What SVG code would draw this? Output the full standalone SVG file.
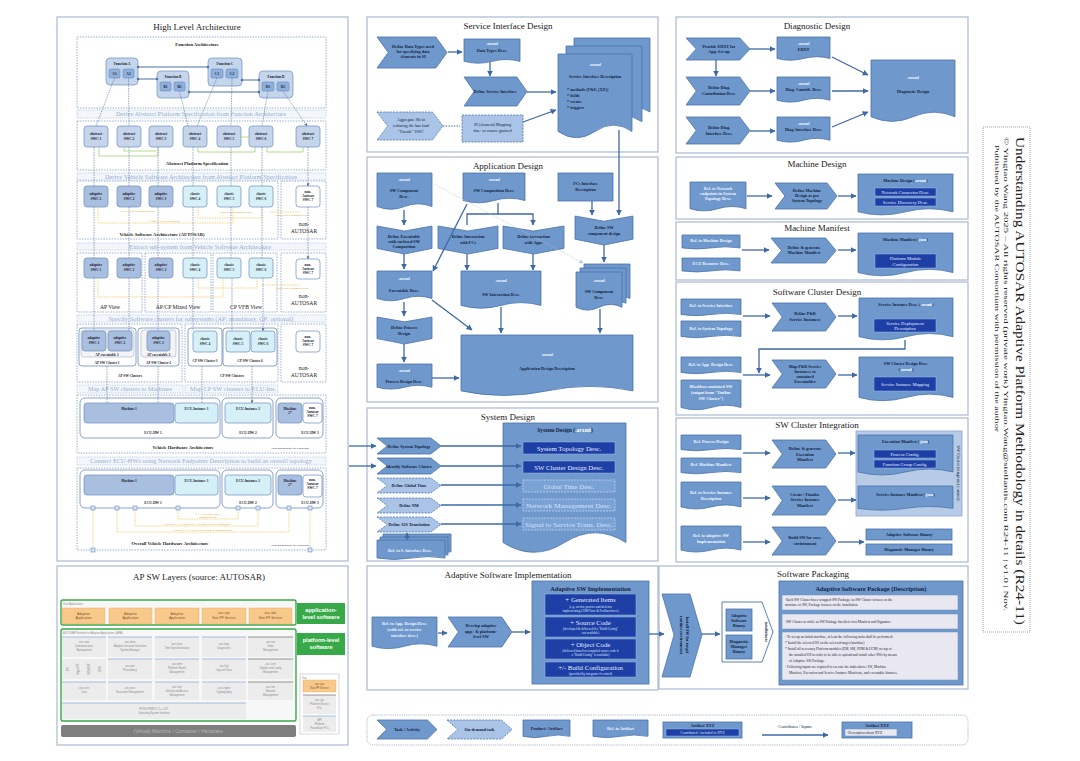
<svg xmlns="http://www.w3.org/2000/svg" width="1080" height="761" viewBox="0 0 1080 761">
<style>
.pn{fill:#fff;stroke:#a8b9d0;stroke-width:1.2}
.hd{font-family:"Liberation Serif",serif;font-size:9px;fill:#1a1a1a;text-anchor:middle}
.s{fill:#6f98cc;stroke:#4a73aa;stroke-width:0.8}
.sl{fill:#a9c4e6;stroke:#4a73aa;stroke-width:0.8;stroke-dasharray:2 1.2}
.dk{fill:#1d3fa6;stroke:#9fb6e0;stroke-width:0.5}
.dd{fill:#7aa2d4;stroke:#d6e3f5;stroke-width:0.6;stroke-dasharray:2 1}
.lt{fill:#e9e7ef;stroke:#6d8fc0;stroke-width:0.5}
.t{font-family:"Liberation Serif",serif;font-size:4.2px;font-weight:bold;fill:#13233f;text-anchor:middle}
.tw{font-family:"Liberation Serif",serif;font-size:4.2px;font-weight:bold;fill:#f2f6ff;text-anchor:middle}
.td{font-family:"Liberation Serif",serif;font-size:6.8px;fill:#e6eefc;text-anchor:middle}
.tdd{font-family:"Liberation Serif",serif;font-size:6.8px;fill:#d3e2f6;text-anchor:middle}
.ts{font-family:"Liberation Serif",serif;font-size:3.2px;fill:#dfe8fa;text-anchor:middle}
.tm{font-family:"Liberation Serif",serif;font-size:4.6px;fill:#e6eefc;text-anchor:middle}
.tp{font-family:"Liberation Serif",serif;font-size:3.5px;fill:#1a2740}
.a{stroke:#3e69a6;stroke-width:1.3;fill:none;marker-end:url(#ah)}
.ad{stroke:#3e69a6;stroke-width:1.1;fill:none;stroke-dasharray:1.5 1.2}
.dc{fill:none;stroke:#6f8fc0;stroke-width:0.7;stroke-dasharray:1.5 1.2}
.bn{fill:#f3f7fc;stroke:#9db3d6;stroke-width:0.6;stroke-dasharray:1.2 1}
.bt{font-family:"Liberation Serif",serif;font-size:5.4px;fill:#93acd3;text-anchor:middle}
.hl{font-family:"Liberation Serif",serif;font-size:4.6px;font-weight:bold;fill:#1a1a1a;text-anchor:middle}
.hl2{font-family:"Liberation Serif",serif;font-size:5.6px;fill:#1a1a1a;text-anchor:middle}
.hs{font-family:"Liberation Serif",serif;font-size:3.5px;font-weight:bold;fill:#1a1a2a;text-anchor:middle}
.fb{fill:#c4d5ec;stroke:#6f91c3;stroke-width:0.7}
.fs{fill:#8fb0dc;stroke:#5d81b8;stroke-width:0.5}
.ap{fill:#a9bfe0;stroke:#6a8cc0;stroke-width:0.7}
.cp{fill:#d6f0f8;stroke:#6a8cc0;stroke-width:0.7}
.na{fill:#fff;stroke:#6a8cc0;stroke-width:0.7}
.hw{fill:#fff;stroke:#6a8cc0;stroke-width:0.8}
.vd{stroke:#4a6fa5;stroke-width:0.6;fill:none;stroke-dasharray:1.5 1;marker-end:url(#ah2)}
.gl{stroke:#9fd06e;stroke-width:0.8;fill:none}
.yl{stroke:#f2c14b;stroke-width:0.7;fill:none;stroke-dasharray:1.5 1}
.yt{font-family:"Liberation Serif",serif;font-size:2.8px;fill:#e2a21c;text-anchor:middle}
.cl{stroke:#4a6fa5;stroke-width:1.1;fill:none}
.lg{fill:#ececec;stroke:none}
.lgt{font-family:"Liberation Sans",sans-serif;font-size:2.6px;fill:#8a8a8a;text-anchor:middle}
.gb{fill:#f7f7f7;stroke:#3aa84a;stroke-width:1.4}
.gt{fill:#38a948}
.gtt{font-family:"Liberation Sans",sans-serif;font-size:5.6px;font-weight:bold;fill:#fff;text-anchor:middle}
.or{fill:#f8c98b;stroke:#e7a85b;stroke-width:0.4}
.ot{font-family:"Liberation Sans",sans-serif;font-size:3.3px;fill:#7a5a32;text-anchor:middle}
</style>
<defs>
<path id="doc" d="M0,0H1V0.86Q0.75,0.72 0.5,0.86T0,0.86Z" vector-effect="non-scaling-stroke"/>
<path id="chev" d="M0,0H0.84L1,0.5L0.84,1H0L0.16,0.5Z" vector-effect="non-scaling-stroke"/>
<path id="chevd" d="M0,0L0.5,0.18L1,0V0.8L0.5,1L0,0.8Z" vector-effect="non-scaling-stroke"/>
<marker id="ah" viewBox="0 0 10 10" refX="9" refY="5" markerWidth="6" markerHeight="6" markerUnits="userSpaceOnUse" orient="auto"><path d="M0,0L10,5L0,10Z" fill="#3e69a6"/></marker>
<marker id="ah2" viewBox="0 0 10 10" refX="9" refY="5" markerWidth="3" markerHeight="3" markerUnits="userSpaceOnUse" orient="auto"><path d="M0,0L10,5L0,10Z" fill="#4a6fa5"/></marker>
<marker id="ahg" viewBox="0 0 10 10" refX="9" refY="5" markerWidth="4" markerHeight="4" markerUnits="userSpaceOnUse" orient="auto"><path d="M0,0L10,5L0,10Z" fill="#b8c2d0"/></marker>
</defs>
<rect width="1080" height="761" fill="#fff"/>

<!-- ================= HIGH LEVEL ARCHITECTURE ================= -->
<g id="hla">
<rect class="pn" x="57" y="17" width="291" height="544"/>
<text class="hd" x="197" y="30">High Level Architecture</text>
<rect class="dc" x="77" y="37" width="249" height="71"/>
<text class="hl" x="197" y="46">Function Architecture</text>
<g id="fnA"><rect class="fb" x="106" y="58" width="32" height="27" rx="4"/><text class="hs" x="122" y="64.5">Function A</text><rect class="fs" x="109" y="69" width="11" height="9" rx="1.5"/><text class="hs" x="114.5" y="75">A1</text><rect class="fs" x="123" y="69" width="11" height="9" rx="1.5"/><text class="hs" x="128.5" y="75">A2</text></g>
<g id="fnB"><rect class="fb" x="157" y="71" width="32" height="27" rx="4"/><text class="hs" x="173" y="77.5">Function B</text><rect class="fs" x="160" y="82" width="11" height="9" rx="1.5"/><text class="hs" x="165.5" y="88">B1</text><rect class="fs" x="174" y="82" width="11" height="9" rx="1.5"/><text class="hs" x="179.5" y="88">B2</text></g>
<g id="fnC"><rect class="fb" x="208" y="58" width="34" height="28" rx="4"/><text class="hs" x="225" y="64.5">Function C</text><rect class="fs" x="211" y="69" width="12" height="9" rx="1.5"/><text class="hs" x="217" y="75">C1</text><rect class="fs" x="226" y="69" width="12" height="9" rx="1.5"/><text class="hs" x="232" y="75">C2</text></g>
<g id="fnD"><rect class="fb" x="259" y="71" width="34" height="27" rx="4"/><text class="hs" x="276" y="77.5">Function D</text><rect class="fs" x="262" y="82" width="12" height="9" rx="1.5"/><text class="hs" x="268" y="88">D1</text><rect class="fs" x="277" y="82" width="12" height="9" rx="1.5"/><text class="hs" x="283" y="88">D2</text></g>

<rect class="bn" x="77" y="110" width="249" height="8"/>
<text class="bt" x="201" y="116" textLength="170" lengthAdjust="spacingAndGlyphs">Derive Abstract Platform Specification from Function Architecture</text>

<rect class="dc" x="77" y="121" width="249" height="49"/>
<g id="abs">
<rect class="fb" x="84" y="126" width="24" height="21" rx="3"/><text class="hs" x="96" y="135">abstract</text><text class="hs" x="96" y="140">SWC 1</text>
<rect class="fb" x="117" y="126" width="24" height="21" rx="3"/><text class="hs" x="129" y="135">abstract</text><text class="hs" x="129" y="140">SWC 2</text>
<rect class="fb" x="149" y="126" width="24" height="21" rx="3"/><text class="hs" x="161" y="135">abstract</text><text class="hs" x="161" y="140">SWC 3</text>
<rect class="fb" x="183" y="126" width="24" height="21" rx="3"/><text class="hs" x="195" y="135">abstract</text><text class="hs" x="195" y="140">SWC 4</text>
<rect class="fb" x="217" y="126" width="24" height="21" rx="3"/><text class="hs" x="229" y="135">abstract</text><text class="hs" x="229" y="140">SWC 5</text>
<rect class="fb" x="249" y="126" width="24" height="21" rx="3"/><text class="hs" x="261" y="135">abstract</text><text class="hs" x="261" y="140">SWC 6</text>
<rect class="fb" x="296" y="126" width="24" height="21" rx="3"/><text class="hs" x="308" y="135">abstract</text><text class="hs" x="308" y="140">SWC 7</text>
</g>
<text class="hl" x="197" y="165">Abstract Platform Specification</text>

<rect class="bn" x="77" y="173" width="249" height="7"/>
<text class="bt" x="201" y="178.5" textLength="192" lengthAdjust="spacingAndGlyphs">Derive Vehicle Software Architecture from Abstract Platform Specification</text>

<rect class="dc" x="77" y="181" width="201" height="58"/>
<rect class="dc" x="281" y="181" width="45" height="58"/>
<g id="vsa">
<rect class="ap" x="84" y="186" width="24" height="21" rx="3"/><text class="hs" x="96" y="195">adaptive</text><text class="hs" x="96" y="200">SWC 1</text>
<rect class="ap" x="117" y="186" width="24" height="21" rx="3"/><text class="hs" x="129" y="195">adaptive</text><text class="hs" x="129" y="200">SWC 2</text>
<rect class="ap" x="149" y="186" width="24" height="21" rx="3"/><text class="hs" x="161" y="195">adaptive</text><text class="hs" x="161" y="200">SWC 3</text>
<rect class="cp" x="183" y="186" width="24" height="21" rx="3"/><text class="hs" x="195" y="195">classic</text><text class="hs" x="195" y="200">SWC 4</text>
<rect class="cp" x="217" y="186" width="24" height="21" rx="3"/><text class="hs" x="229" y="195">classic</text><text class="hs" x="229" y="200">SWC 5</text>
<rect class="cp" x="249" y="186" width="24" height="21" rx="3"/><text class="hs" x="261" y="195">classic</text><text class="hs" x="261" y="200">SWC 6</text>
<rect class="na" x="296" y="186" width="24" height="21" rx="3"/><text class="hs" x="308" y="193">non-</text><text class="hs" x="308" y="197">Autosar</text><text class="hs" x="308" y="201">SWC 7</text>
</g>
<text class="hl" x="162" y="236">Vehicle Software Architecture (AUTOSAR)</text>
<text class="hl2" x="304" y="226">non-</text><text class="hl2" x="304" y="233">AUTOSAR</text>

<rect class="bn" x="77" y="243" width="249" height="7"/>
<text class="bt" x="200" y="248.5" textLength="142" lengthAdjust="spacingAndGlyphs">Extract sub-system from Vehicle Software Architecture</text>

<rect class="dc" x="77" y="253" width="65" height="59"/>
<rect class="dc" x="145" y="253" width="66" height="59"/>
<rect class="dc" x="213" y="253" width="64" height="59"/>
<rect class="dc" x="281" y="253" width="45" height="59"/>
<g id="views">
<rect class="ap" x="84" y="258" width="24" height="20" rx="3"/><text class="hs" x="96" y="266">adaptive</text><text class="hs" x="96" y="271">SWC 1</text>
<rect class="ap" x="117" y="258" width="24" height="20" rx="3"/><text class="hs" x="129" y="266">adaptive</text><text class="hs" x="129" y="271">SWC 2</text>
<rect class="ap" x="149" y="258" width="24" height="20" rx="3"/><text class="hs" x="161" y="266">adaptive</text><text class="hs" x="161" y="271">SWC 3</text>
<rect class="cp" x="183" y="258" width="24" height="20" rx="3"/><text class="hs" x="195" y="266">classic</text><text class="hs" x="195" y="271">SWC 4</text>
<rect class="cp" x="217" y="258" width="24" height="20" rx="3"/><text class="hs" x="229" y="266">classic</text><text class="hs" x="229" y="271">SWC 5</text>
<rect class="cp" x="249" y="258" width="24" height="20" rx="3"/><text class="hs" x="261" y="266">classic</text><text class="hs" x="261" y="271">SWC 6</text>
<rect class="na" x="296" y="259" width="24" height="20" rx="3"/><text class="hs" x="308" y="266">non-</text><text class="hs" x="308" y="270">Autosar</text><text class="hs" x="308" y="274">SWC 7</text>
</g>
<text class="hl2" x="110" y="309">AP View</text>
<text class="hl2" x="178" y="309">AP/CP Mixed View</text>
<text class="hl2" x="246" y="309">CP VFB View</text>
<text class="hl2" x="304" y="298">non-</text><text class="hl2" x="304" y="305">AUTOSAR</text>

<rect class="bn" x="77" y="315" width="249" height="7"/>
<text class="bt" x="201" y="320.5" textLength="185" lengthAdjust="spacingAndGlyphs">Specify Software clusters for subsystems (AP: mandatory, CP: optional)</text>

<rect class="dc" x="77" y="324" width="105" height="58"/>
<rect class="dc" x="185" y="324" width="93" height="58"/>
<rect class="dc" x="281" y="324" width="45" height="58"/>
<g id="clusters">
<rect class="hw" x="79" y="328" width="57" height="38" rx="3"/>
<rect fill="#f4f4f4" stroke="#8aa0c0" stroke-width="0.5" x="81" y="330" width="53" height="27" rx="3"/>
<rect class="ap" x="82" y="331" width="24" height="20" rx="3"/><text class="hs" x="94" y="339">adaptive</text><text class="hs" x="94" y="344">SWC 1</text>
<rect class="ap" x="108" y="331" width="24" height="20" rx="3"/><text class="hs" x="120" y="339">adaptive</text><text class="hs" x="120" y="344">SWC 2</text>
<text class="hs" x="107" y="356">AP executable 1</text><text class="hs" x="107" y="364">AP SW Cluster 1</text>
<rect class="hw" x="138" y="328" width="41" height="38" rx="3"/>
<rect fill="#f4f4f4" stroke="#8aa0c0" stroke-width="0.5" x="141" y="330" width="35" height="27" rx="3"/>
<rect class="ap" x="147" y="331" width="23" height="20" rx="3"/><text class="hs" x="158.5" y="339">adaptive</text><text class="hs" x="158.5" y="344">SWC 3</text>
<text class="hs" x="158.5" y="356">AP executable 2</text><text class="hs" x="158.5" y="364">AP SW Cluster 2</text>
<rect class="hw" x="188" y="328" width="34" height="38" rx="3"/>
<rect class="cp" x="193" y="331" width="24" height="21" rx="3"/><text class="hs" x="205" y="340">classic</text><text class="hs" x="205" y="345">SWC 4</text>
<text class="hs" x="205" y="362">CP SW Cluster 3</text>
<rect class="hw" x="223" y="328" width="54" height="38" rx="3"/>
<rect class="cp" x="226" y="331" width="24" height="21" rx="3"/><text class="hs" x="238" y="340">classic</text><text class="hs" x="238" y="345">SWC 5</text>
<rect class="cp" x="251" y="331" width="24" height="21" rx="3"/><text class="hs" x="263" y="340">classic</text><text class="hs" x="263" y="345">SWC 6</text>
<text class="hs" x="250" y="362">CP SW Cluster 4</text>
<rect class="na" x="296" y="331" width="24" height="21" rx="3"/><text class="hs" x="308" y="338">non-</text><text class="hs" x="308" y="342">Autosar</text><text class="hs" x="308" y="346">SWC 7</text>
</g>
<text class="hs" x="130" y="377">AP SW Clusters</text>
<text class="hs" x="232" y="377">CP SW Clusters</text>
<text class="hl2" x="304" y="370">non-</text><text class="hl2" x="304" y="377">AUTOSAR</text>

<rect class="bn" x="77" y="385" width="106" height="8"/>
<text class="bt" x="130" y="391" textLength="84" lengthAdjust="spacingAndGlyphs">Map AP SW clusters to Machines</text>
<rect class="bn" x="185" y="385" width="93" height="8"/>
<text class="bt" x="233" y="391" textLength="86" lengthAdjust="spacingAndGlyphs">Map CP SW clusters to ECU-Ins.</text>

<rect class="dc" x="77" y="395" width="249" height="58"/>
<g id="vha">
<rect class="hw" x="80" y="398" width="140" height="40" rx="5"/>
<rect class="ap" x="84" y="403" width="90" height="20" rx="3"/><text class="hs" x="129" y="410">Machine 1</text>
<rect class="cp" x="175" y="403" width="43" height="20" rx="3"/><text class="hs" x="196.5" y="410">ECU-Instance 1</text>
<text class="hs" x="153" y="434">ECU-HW 1</text>
<rect class="hw" x="222" y="398" width="51" height="40" rx="5"/>
<rect class="cp" x="225" y="403" width="46" height="20" rx="3"/><text class="hs" x="248" y="410">ECU-Instance 2</text>
<text class="hs" x="248" y="434">ECU-HW 2</text>
<rect class="hw" x="276" y="398" width="47" height="40" rx="5"/>
<rect class="ap" x="278" y="403" width="24" height="20" rx="3"/><text class="hs" x="290" y="410">Machine</text><text class="hs" x="290" y="414">2*</text>
<rect class="na" x="303" y="403" width="19" height="20" rx="3"/><text class="hs" x="312.5" y="409">non-</text><text class="hs" x="312.5" y="413">Autosar</text><text class="hs" x="312.5" y="417">SWC 7</text>
<text class="hs" x="310" y="434">ECU-HW 3</text>
</g>
<text class="hl" x="183" y="449">Vehicle Hardware Architecture</text>
<text class="hs" x="290" y="449" style="font-weight:normal;font-size:2.8px">*add 2nd machine for illustration</text>

<rect class="bn" x="77" y="457" width="249" height="8"/>
<text class="bt" x="201" y="463" textLength="222" lengthAdjust="spacingAndGlyphs">Connect ECU-HWs using Network Endpoints Description to build an overall topology</text>

<rect class="dc" x="77" y="468" width="249" height="82"/>
<g id="ovha">
<rect class="hw" x="80" y="470" width="140" height="38" rx="5"/>
<rect class="ap" x="84" y="475" width="90" height="20" rx="3"/><text class="hs" x="129" y="482">Machine 1</text>
<rect class="cp" x="175" y="475" width="43" height="20" rx="3"/><text class="hs" x="196.5" y="482">ECU-Instance 1</text>
<text class="hs" x="153" y="504">ECU-HW 1</text>
<rect class="hw" x="222" y="470" width="51" height="38" rx="5"/>
<rect class="cp" x="225" y="475" width="46" height="20" rx="3"/><text class="hs" x="248" y="482">ECU-Instance 2</text>
<text class="hs" x="248" y="504">ECU-HW 2</text>
<rect class="hw" x="276" y="470" width="47" height="38" rx="5"/>
<rect class="ap" x="278" y="475" width="24" height="20" rx="3"/><text class="hs" x="290" y="482">Machine</text><text class="hs" x="290" y="486">2*</text>
<rect class="na" x="303" y="475" width="19" height="22" rx="3"/><text class="hs" x="312.5" y="481">non-</text><text class="hs" x="312.5" y="485">Autosar</text><text class="hs" x="312.5" y="489">SWC 7</text>
<text class="hs" x="310" y="504">ECU-HW 3</text>
</g>
<g id="hla-net">
<path class="yl" d="M178,510V519H238V510"/>
<path class="yl" d="M135,510V526H258V510"/>
<path class="yl" d="M117,510V532H289V510"/>
<path class="yl" d="M93,510V548"/>
<path class="yl" d="M310,510V548"/>
<text class="yt" x="208" y="515">CAN for signal-based</text><text class="yt" x="208" y="518">communication</text>
<text class="yt" x="197" y="525">Ethernet VLAN for service- via signal / service translation</text>
<text class="yt" x="203" y="531">Ethernet VLAN for service-oriented communication</text>
<g fill="#d9e6f5" stroke="#6a8cc0" stroke-width="0.6">
<rect x="91" y="506" width="4" height="4"/><rect x="115" y="506" width="4" height="4"/><rect x="133" y="506" width="4" height="4"/><rect x="176" y="506" width="4" height="4"/><rect x="236" y="506" width="4" height="4"/><rect x="256" y="506" width="4" height="4"/><rect x="287" y="506" width="4" height="4"/><rect x="308" y="506" width="4" height="4"/><rect x="91" y="548" width="4" height="4"/><rect x="308" y="548" width="4" height="4"/>
</g>
</g>
<text class="hl" x="170" y="545">Overall Vehicle Hardware Architecture</text>
<text class="hs" x="290" y="546" style="font-weight:normal;font-size:2.8px">*add 2nd machine for illustration</text>

<g id="hla-conn">
<path class="cl" d="M138,67H208M138,79H157M189,92H259M242,80H259"/>
<g fill="#4a6fa5"><circle cx="138" cy="67" r="1.2"/><circle cx="208" cy="67" r="1.2"/><circle cx="138" cy="79" r="1.2"/><circle cx="157" cy="79" r="1.2"/><circle cx="189" cy="92" r="1.2"/><circle cx="259" cy="92" r="1.2"/><circle cx="242" cy="80" r="1.2"/><circle cx="259" cy="80" r="1.2"/></g>
<path class="vd" d="M114.5,78L96,126M128.5,78L129,126M179.5,91L188,126M217,78L197,126M232,78L231,126M268,91L262,126M283,91L307,126"/>
<path class="gl" d="M99,147V156H158V147M124,147V151H156M198,147V152H255V147M241,137H249M267,147V152H303V147"/>
<path class="vd" d="M94,147V186M129,147V186M158,147V186M193,147V186M231,147V186M262,147V186M308,147V186"/>
<path class="yl" d="M98,207V223H233V207M198,207V218H262V207M270,212H300"/>
<text class="yt" x="138" y="212">service-based communication</text>
<text class="yt" x="165" y="222">signal / service translation</text>
<text class="yt" x="236" y="213">signal-based communication</text>
<text class="yt" x="292" y="216">signal-based communication</text>
<path class="vd" d="M94,207V258M129,207V258M158,207V258M193,207V258M231,207V258M262,207V258M308,207V259"/>
<path class="yl" d="M98,278V297H223V278M198,278V288H257V278M262,285H300"/>
<text class="yt" x="292" y="289">signal-based communication</text>
<path class="vd" d="M94,278V331M129,278V331M158,278V331M193,278V331M232,278V331M263,278V331"/>
<path class="vd" d="M107,366V403M158,366V403M202,366V403M252,366V403"/>
</g>
</g>

<!-- ================= AP SW LAYERS ================= -->
<g id="apswl">
<rect class="pn" x="57" y="566" width="291" height="179"/>
<text class="hd" x="199" y="580">AP SW Layers (source: AUTOSAR)</text>
<rect class="gb" x="61" y="600" width="235" height="25" rx="2"/>
<text class="lgt" x="63" y="604.5" style="text-anchor:start">User Applications</text>
<rect class="or" x="62" y="608" width="43" height="16"/><text class="ot" x="83.5" y="615">Adaptive</text><text class="ot" x="83.5" y="619">Application</text>
<rect class="or" x="109" y="608" width="43" height="16"/><text class="ot" x="130.5" y="615">Adaptive</text><text class="ot" x="130.5" y="619">Application</text>
<rect class="or" x="155" y="608" width="44" height="16"/><text class="ot" x="177" y="615">Adaptive</text><text class="ot" x="177" y="619">Application</text>
<rect class="or" x="202" y="608" width="44" height="16"/><text class="ot" x="224" y="614">ara::xyz</text><text class="ot" x="224" y="618.5">Non-PF Service</text>
<rect class="or" x="249" y="608" width="43" height="16"/><text class="ot" x="270.5" y="614">ara::abc</text><text class="ot" x="270.5" y="618.5">Non-PF Service</text>
<rect class="gt" x="297" y="603" width="48" height="21"/><text class="gtt" x="321" y="612">application-</text><text class="gtt" x="321" y="619">level software</text>
<rect class="gb" x="61" y="629" width="235" height="92" rx="2"/>
<text class="lgt" x="63" y="633.5" style="text-anchor:start">AUTOSAR Runtime for Adaptive Applications (ARA)</text>
<g id="ara-grid">
<rect class="lg" x="62" y="637" width="44" height="20"/><rect class="lg" x="108" y="637" width="44" height="20"/><rect class="lg" x="155" y="637" width="44" height="20"/><rect class="lg" x="202" y="637" width="44" height="20"/><rect class="lg" x="248" y="637" width="45" height="20"/>
<rect class="lg" x="62" y="659" width="44" height="20"/><rect class="lg" x="108" y="659" width="44" height="20"/><rect class="lg" x="155" y="659" width="44" height="20"/><rect class="lg" x="202" y="659" width="44" height="20"/><rect class="lg" x="248" y="659" width="45" height="20"/>
<rect class="lg" x="62" y="682" width="44" height="18"/><rect class="lg" x="108" y="682" width="44" height="18"/><rect class="lg" x="155" y="682" width="44" height="18"/><rect class="lg" x="202" y="682" width="44" height="18"/><rect class="lg" x="248" y="682" width="45" height="18"/>
<rect class="lg" x="62" y="703" width="184" height="16"/>
<path stroke="#8fb0d8" stroke-width="0.8" d="M62,637H106M108,637H152M155,637H199M202,637H246M108,659H152M155,659H199M202,659H246M62,682H106M108,682H152M155,682H199M202,682H246M62,703H246"/>
<path stroke="#7b7b7b" stroke-width="0.8" d="M248,637H293M248,659H293M248,682H293"/>
<text class="lgt" x="84" y="643">ara::com</text><text class="lgt" x="84" y="647">Communication</text><text class="lgt" x="84" y="651">Management</text>
<text class="lgt" x="130" y="643">ara::idsm</text><text class="lgt" x="130" y="647">Adaptive Intrusion Detection</text><text class="lgt" x="130" y="651">System Manager</text>
<text class="lgt" x="177" y="645">ara::tsync</text><text class="lgt" x="177" y="649">Time Synchronization</text>
<text class="lgt" x="224" y="645">ara::diag</text><text class="lgt" x="224" y="649">Diagnostics</text>
<text class="lgt" x="270.5" y="643">ara::sm</text><text class="lgt" x="270.5" y="647">State</text><text class="lgt" x="270.5" y="651">Management</text>
<text class="lgt" transform="translate(69,669) rotate(-90)">IPC</text><text class="lgt" transform="translate(79,669) rotate(-90)">Signal PF</text><text class="lgt" transform="translate(90,669) rotate(-90)">SOME/IP</text><text class="lgt" transform="translate(101,669) rotate(-90)">DDS</text>
<text class="lgt" x="130" y="667">ara::per</text><text class="lgt" x="130" y="671">Persistency</text>
<text class="lgt" x="177" y="665">ara::phm</text><text class="lgt" x="177" y="669">Platform Health</text><text class="lgt" x="177" y="673">Management</text>
<text class="lgt" x="224" y="667">ara::log</text><text class="lgt" x="224" y="671">Log and Trace</text>
<text class="lgt" x="270.5" y="665">ara::ucm</text><text class="lgt" x="270.5" y="669">Update and Config</text><text class="lgt" x="270.5" y="673">Management</text>
<text class="lgt" x="84" y="689">ara::core</text><text class="lgt" x="84" y="693">Core</text>
<text class="lgt" x="130" y="689">ara::exec</text><text class="lgt" x="130" y="693">Execution Management</text>
<text class="lgt" x="177" y="688">ara::iam</text><text class="lgt" x="177" y="692">Identity and Access</text><text class="lgt" x="177" y="696">Management</text>
<text class="lgt" x="224" y="689">ara::crypto</text><text class="lgt" x="224" y="693">Cryptography</text>
<text class="lgt" x="270.5" y="688">ara::nm</text><text class="lgt" x="270.5" y="692">Network</text><text class="lgt" x="270.5" y="696">Management</text>
<text class="lgt" x="154" y="710">POSIX PSE51 / C++ STL</text><text class="lgt" x="154" y="714">Operating System Interface</text>
</g>
<rect class="gt" x="297" y="633" width="48" height="22"/><text class="gtt" x="321" y="642">platform-level</text><text class="gtt" x="321" y="649">software</text>
<rect x="300" y="674" width="39" height="60" fill="#fff" stroke="#bdbdbd" stroke-width="0.6"/>
<text class="lgt" x="302" y="678.5" style="text-anchor:start">Key</text>
<rect class="or" x="303" y="680" width="33" height="12"/><text class="ot" x="319.5" y="685" style="font-size:2.6px">ara::xyz</text><text class="ot" x="319.5" y="689" style="font-size:2.6px">Non-PF Service</text>
<rect class="lg" x="303" y="695" width="33" height="19"/><path stroke="#7b7b7b" stroke-width="0.8" d="M303,695H336"/><text class="lgt" x="319.5" y="701">ara::xyz</text><text class="lgt" x="319.5" y="705">Platform Service</text><text class="lgt" x="319.5" y="709">FCs</text>
<rect class="lg" x="303" y="716" width="33" height="16"/><path stroke="#8fb0d8" stroke-width="0.8" d="M303,716H336"/><text class="lgt" x="319.5" y="721">API</text><text class="lgt" x="319.5" y="725">Platform</text><text class="lgt" x="319.5" y="729">Foundation FCs</text>
<rect x="61" y="725" width="235" height="12" rx="2" fill="#7e7e7e"/>
<text x="178" y="733" style="font-family:'Liberation Sans',sans-serif;font-size:5px;fill:#b8b8b8;text-anchor:middle">(Virtual) Machine / Container / Hardware</text>
</g>

<!-- ================= SERVICE INTERFACE DESIGN ================= -->
<g id="sid">
<rect class="pn" x="367" y="17" width="291" height="135"/>
<text class="hd" x="508" y="29">Service Interface Design</text>
<g id="sid-dt"><use href="#chev" class="s" transform="translate(377,37) scale(70,31)"/><text class="t" x="413" y="48">Define Data Types used</text><text class="t" x="413" y="53">for specifying data</text><text class="t" x="413" y="58">elements in SI</text></g>
<g id="sid-dtd"><use href="#doc" class="s" transform="translate(464,39) scale(56,26)"/><text class="tw" x="492" y="45">.arxml</text><text class="t" x="492" y="52">Data Types Desc.</text></g>
<g id="sid-dsi"><use href="#chev" class="s" transform="translate(464,77) scale(63,29)"/><text class="t" x="495" y="93">Define Service Interface</text></g>
<g id="sid-agg"><use href="#chev" class="sl" transform="translate(377,112) scale(66,28)"/><text class="t" x="411" y="121" style="font-weight:normal">Aggregate SIs in</text><text class="t" x="411" y="127" style="font-weight:normal">reducing the bus load</text><text class="t" x="411" y="133" style="font-weight:normal">"Facade" SWC</text></g>
<g id="sid-map"><rect class="sl" x="462" y="115" width="61" height="27"/><text class="t" x="492.5" y="126" style="font-weight:normal">SI (element) Mapping</text><text class="t" x="492.5" y="132" style="font-weight:normal">fine- or coarse-grained</text></g>
<g id="sid-desc">
<use href="#doc" class="s" transform="translate(574,38) scale(76,86)"/>
<use href="#doc" class="s" transform="translate(566,46) scale(76,88)"/>
<use href="#doc" class="s" transform="translate(558,54) scale(74,90)"/>
<text class="tw" x="595" y="66">.arxml</text>
<text class="t" x="595" y="78">Service Interface Description</text>
<text class="t" x="567" y="91" style="text-anchor:start">* methods (F&amp;F, (T,F))</text>
<text class="t" x="567" y="97" style="text-anchor:start">* fields</text>
<text class="t" x="567" y="103" style="text-anchor:start">* events</text>
<text class="t" x="567" y="109" style="text-anchor:start">* triggers</text>
</g>
</g>

<!-- ================= APPLICATION DESIGN ================= -->
<g id="appd">
<rect class="pn" x="367" y="157" width="291" height="245"/>
<text class="hd" x="508" y="169">Application Design</text>
<g id="ad-swc"><use href="#doc" class="s" transform="translate(377,173) scale(55,39)"/><text class="tw" x="404" y="181">.arxml</text><text class="t" x="404" y="192">SW Component</text><text class="t" x="404" y="198">Desc.</text></g>
<g id="ad-comp"><use href="#doc" class="s" transform="translate(463,173) scale(62,32)"/><text class="tw" x="494" y="181">.arxml</text><text class="t" x="494" y="192">SW Composition Desc.</text></g>
<g id="ad-fci"><rect class="s" x="558" y="173" width="55" height="28"/><text class="t" x="585.5" y="185">FCs Interface</text><text class="t" x="585.5" y="191">Description</text></g>
<g id="ad-dexe"><use href="#chevd" class="s" transform="translate(377,226) scale(55,28)"/><text class="t" x="404" y="238">Define Executable</text><text class="t" x="404" y="243">with enclosed SW</text><text class="t" x="404" y="248">Composition</text></g>
<g id="ad-dfc"><use href="#chevd" class="s" transform="translate(438,226) scale(60,28)"/><text class="t" x="468" y="238">Define Interaction</text><text class="t" x="468" y="244">with FCs</text></g>
<g id="ad-dapp"><use href="#chevd" class="s" transform="translate(503,226) scale(61,28)"/><text class="t" x="533.5" y="238">Define Interaction</text><text class="t" x="533.5" y="244">with Apps</text></g>
<g id="ad-dswc"><use href="#chevd" class="s" transform="translate(575,216) scale(58,29)"/><text class="t" x="604" y="229">Define SW</text><text class="t" x="604" y="235">component design</text></g>
<g id="ad-exe"><use href="#doc" class="s" transform="translate(377,271) scale(55,32)"/><text class="tw" x="404" y="280">.arxml</text><text class="t" x="404" y="292">Executable Desc.</text></g>
<g id="ad-swi"><use href="#doc" class="s" transform="translate(461,271) scale(80,40)"/><text class="tw" x="501" y="282">.arxml</text><text class="t" x="501" y="296">SW Interaction Desc.</text></g>
<g id="ad-swcs">
<use href="#doc" class="s" transform="translate(584,264) scale(46,40)"/>
<use href="#doc" class="s" transform="translate(580,268) scale(46,41)"/>
<use href="#doc" class="s" transform="translate(576,272) scale(46,41)"/>
<text class="tw" x="599" y="282">.arxml</text><text class="t" x="599" y="293">SW Component</text><text class="t" x="599" y="299">Desc.</text>
</g>
<g id="ad-dproc"><use href="#chevd" class="s" transform="translate(377,317) scale(55,27)"/><text class="t" x="404" y="329">Define Process</text><text class="t" x="404" y="335">Design</text></g>
<g id="ad-proc"><use href="#doc" class="s" transform="translate(377,364) scale(55,27)"/><text class="tw" x="404" y="372">.arxml</text><text class="t" x="404" y="383">Process Design Desc.</text></g>
<g id="ad-add"><use href="#doc" class="s" transform="translate(461,335) scale(172,65)"/><text class="tw" x="547" y="356">.arxml</text><text class="t" x="547" y="370">Application Design Description</text></g>
</g>

<!-- ================= SYSTEM DESIGN ================= -->
<g id="sysd">
<rect class="pn" x="367" y="408" width="291" height="153"/>
<text class="hd" x="508" y="420">System Design</text>
<g id="sd-doc"><use href="#doc" class="s" transform="translate(503,423) scale(123,139)"/>
<text class="t" x="565" y="432" style="font-size:5.6px">System Design (<tspan fill="#fff">.arxml</tspan>)</text>
<rect class="dk" x="523" y="442" width="92" height="12"/><text class="td" x="569" y="450.5">System Topology Desc.</text>
<rect class="dk" x="523" y="461" width="92" height="12"/><text class="td" x="569" y="469.5">SW Cluster Design Desc.</text>
<rect class="dd" x="523" y="480" width="92" height="12"/><text class="tdd" x="569" y="488.5">Global Time Desc.</text>
<rect class="dd" x="523" y="499" width="92" height="12"/><text class="tdd" x="569" y="507.5" textLength="86" lengthAdjust="spacingAndGlyphs">Network Management Desc.</text>
<rect class="dd" x="523" y="518" width="92" height="12"/><text class="tdd" x="569" y="526.5" textLength="88" lengthAdjust="spacingAndGlyphs">Signal to Service Trans. Desc.</text>
</g>
<g id="sd-top"><use href="#chev" class="s" transform="translate(377,438) scale(64,16)"/><text class="t" x="409" y="447.5">Define System Topology</text></g>
<g id="sd-cl"><use href="#chev" class="s" transform="translate(377,458) scale(64,16)"/><text class="t" x="409" y="467.5">Identify Software Cluster</text></g>
<g id="sd-gt"><use href="#chev" class="sl" transform="translate(377,478) scale(64,15)"/><text class="t" x="409" y="487">Define Global Time</text></g>
<g id="sd-nm"><use href="#chev" class="sl" transform="translate(377,498) scale(64,15)"/><text class="t" x="409" y="507">Define NM</text></g>
<g id="sd-s2s"><use href="#chev" class="sl" transform="translate(377,517) scale(64,15)"/><text class="t" x="409" y="526">Define S2S Translation</text></g>
<g id="sd-ref">
<use href="#doc" class="s" transform="translate(383,534) scale(68,21)"/>
<use href="#doc" class="s" transform="translate(380,537) scale(68,21)"/>
<use href="#doc" class="s" transform="translate(377,540) scale(68,21)"/>
<text class="tw" x="410" y="552">Ref. to S. Interface Desc.</text>
</g>
</g>

<!-- ================= ADAPTIVE SOFTWARE IMPLEMENTATION ================= -->
<g id="asi">
<rect class="pn" x="367" y="566" width="291" height="124"/>
<text class="hd" x="508" y="578">Adaptive Software Implementation</text>
<g id="asi-ref"><use href="#doc" class="s" transform="translate(372,617) scale(65,34)"/><text class="tw" x="404.5" y="625">Ref. to App. Design Desc.</text><text class="tw" x="404.5" y="631">(with ref. to service</text><text class="tw" x="404.5" y="637">interface desc.)</text></g>
<g id="asi-dev"><use href="#chev" class="s" transform="translate(448,617) scale(64,30)"/><text class="t" x="481" y="627">Develop adaptive</text><text class="t" x="481" y="632.5">app.- &amp; platform-</text><text class="t" x="481" y="638">level SW</text></g>
<g id="asi-impl">
<rect class="s" x="532" y="581" width="117" height="103"/>
<text class="t" x="590.5" y="591" style="font-size:6.3px">Adaptive SW Implementation</text>
<rect class="dk" x="545" y="594" width="91" height="21"/><text class="td" x="590.5" y="602">+ Generated Items</text><text class="ts" x="590.5" y="607.5">(e.g. service proxies and skeleton</text><text class="ts" x="590.5" y="611.5">implementing COM Func &amp; PortInterfaces)</text>
<rect class="dk" x="545" y="617" width="91" height="20"/><text class="td" x="590.5" y="625">+ Source Code</text><text class="ts" x="590.5" y="630">(developed &amp; delivered if a "Build Config"</text><text class="ts" x="590.5" y="634">not available)</text>
<rect class="dk" x="545" y="639" width="91" height="20"/><text class="td" x="590.5" y="647">+ Object Code</text><text class="ts" x="590.5" y="652">(delivered based on compiled source code if</text><text class="ts" x="590.5" y="656">a "Build Config" is available)</text>
<rect class="dk" x="545" y="662" width="91" height="15"/><text class="td" x="590.5" y="669.5">+/- Build Configuration</text><text class="ts" x="590.5" y="675">(provided by integrator if existed)</text>
</g>
</g>

<!-- ================= DIAGNOSTIC DESIGN ================= -->
<g id="diag">
<rect class="pn" x="676" y="17" width="292" height="136"/>
<text class="hd" x="817" y="29">Diagnostic Design</text>
<g id="dg-edxt"><use href="#chev" class="s" transform="translate(686,38) scale(64,22)"/><text class="t" x="719" y="47.5">Provide EDXT for</text><text class="t" x="719" y="53">App. Set-up</text></g>
<g id="dg-dc"><use href="#chev" class="s" transform="translate(686,77) scale(64,28)"/><text class="t" x="719" y="89">Define Diag.</text><text class="t" x="719" y="95">Contribution Desc.</text></g>
<g id="dg-di"><use href="#chev" class="s" transform="translate(686,117) scale(64,27)"/><text class="t" x="719" y="129">Define Diag.</text><text class="t" x="719" y="135">Interface Desc.</text></g>
<g id="dg-edxtd"><use href="#doc" class="s" transform="translate(777,37) scale(53,25)"/><text class="tw" x="803.5" y="45">.arxml</text><text class="t" x="803.5" y="50.5">EDXT</text></g>
<g id="dg-cd"><use href="#doc" class="s" transform="translate(777,77) scale(53,27)"/><text class="tw" x="803.5" y="85">.arxml</text><text class="t" x="803.5" y="91">Diag. Contrib. Desc.</text></g>
<g id="dg-id"><use href="#doc" class="s" transform="translate(777,117) scale(53,27)"/><text class="tw" x="803.5" y="125">.arxml</text><text class="t" x="803.5" y="131">Diag. Interface Desc.</text></g>
<g id="dg-dd"><use href="#doc" class="s" transform="translate(871,60) scale(84,66)"/><text class="tw" x="913" y="79">.arxml</text><text class="t" x="913" y="93">Diagnostic Design</text></g>
</g>

<!-- ================= MACHINE DESIGN ================= -->
<g id="md">
<rect class="pn" x="676" y="157" width="292" height="62"/>
<text class="hd" x="817" y="167">Machine Design</text>
<g id="md-ref"><use href="#doc" class="s" transform="translate(690,182) scale(56,31)"/><text class="tw" x="718" y="190">Ref. to Network</text><text class="tw" x="718" y="195">endpoints in System</text><text class="tw" x="718" y="200">Topology Desc.</text></g>
<g id="md-def"><use href="#chev" class="s" transform="translate(775,183) scale(62,26)"/><text class="t" x="807" y="192">Define Machine</text><text class="t" x="807" y="197">Design as per</text><text class="t" x="807" y="202">System Topology</text></g>
<g id="md-doc"><use href="#doc" class="s" transform="translate(858,174) scale(95,44)"/><text class="t" x="905.5" y="182">Machine Design (<tspan fill="#fff">.arxml</tspan>)</text>
<rect class="dk" x="875" y="188" width="61" height="8"/><text class="tm" x="905.5" y="193.6">Network Connector Desc.</text>
<rect class="dk" x="875" y="198" width="61" height="8"/><text class="tm" x="905.5" y="203.6">Service Discovery Desc.</text></g>
</g>

<!-- ================= MACHINE MANIFEST ================= -->
<g id="mm">
<rect class="pn" x="676" y="222" width="292" height="58"/>
<text class="hd" x="817" y="231">Machine Manifest</text>
<g id="mm-ref1"><use href="#doc" class="s" transform="translate(682,235) scale(58,15)"/><text class="tw" x="711" y="242">Ref. to Machine Design</text></g>
<g id="mm-ref2"><use href="#doc" class="s" transform="translate(682,258) scale(58,15)"/><text class="tw" x="711" y="265">ECU Resource Desc.</text></g>
<g id="mm-def"><use href="#chev" class="s" transform="translate(771,238) scale(65,25)"/><text class="t" x="804" y="248.5">Define &amp; generate</text><text class="t" x="804" y="254">Machine Manifest</text></g>
<g id="mm-doc"><use href="#doc" class="s" transform="translate(858,233) scale(95,46)"/><text class="t" x="905.5" y="241">Machine Manifest (<tspan fill="#fff">.json</tspan>)</text>
<rect class="dk" x="875" y="254" width="61" height="14"/><text class="tm" x="905.5" y="260">Platform Module</text><text class="tm" x="905.5" y="265.5">Configuration</text></g>
</g>

<!-- ================= SOFTWARE CLUSTER DESIGN ================= -->
<g id="scd">
<rect class="pn" x="676" y="282" width="292" height="133"/>
<text class="hd" x="817" y="295">Software Cluster Design</text>
<g id="scd-r1"><use href="#doc" class="s" transform="translate(681,299) scale(60,18)"/><text class="tw" x="711" y="307">Ref. to Service Interface</text></g>
<g id="scd-r2"><use href="#doc" class="s" transform="translate(681,321) scale(60,18)"/><text class="tw" x="711" y="330">Ref. to System Topology</text></g>
<g id="scd-d1"><use href="#chev" class="s" transform="translate(772,303) scale(64,28)"/><text class="t" x="805" y="314.5">Define P&amp;R</text><text class="t" x="805" y="320.5">Service Instances</text></g>
<g id="scd-sid"><use href="#doc" class="s" transform="translate(859,298) scale(94,45)"/><text class="t" x="906" y="306">Service Instance Desc. (<tspan fill="#fff">.arxml</tspan>)</text>
<rect class="dk" x="874" y="319" width="62" height="13"/><text class="tm" x="905" y="324.5">Service Deployment</text><text class="tm" x="905" y="330">Description</text></g>
<g id="scd-r3"><use href="#doc" class="s" transform="translate(681,357) scale(60,18)"/><text class="tw" x="711" y="365.5">Ref. to App. Design Desc.</text></g>
<g id="scd-r4"><use href="#doc" class="s" transform="translate(681,380) scale(60,32)"/><text class="tw" x="711" y="388">Blackbox contained SW</text><text class="tw" x="711" y="394">(output from "Outline</text><text class="tw" x="711" y="400">SW Cluster")</text></g>
<g id="scd-d2"><use href="#chev" class="s" transform="translate(772,360) scale(64,28)"/><text class="t" x="805" y="367.5">Map P&amp;R Service</text><text class="t" x="805" y="372.5">Instances to</text><text class="t" x="805" y="377.5">contained</text><text class="t" x="805" y="382.5">Executables</text></g>
<g id="scd-cdd"><use href="#doc" class="s" transform="translate(859,357) scale(94,47)"/><text class="t" x="906" y="365">SW Cluster Design Desc.</text><text class="t" x="906" y="371">(<tspan fill="#fff">.arxml</tspan>)</text>
<rect class="dk" x="874" y="377" width="62" height="14"/><text class="tm" x="905" y="385.5">Service Instance Mapping</text></g>
</g>

<!-- ================= SW CLUSTER INTEGRATION ================= -->
<g id="sci">
<rect class="pn" x="676" y="418" width="292" height="144"/>
<text class="hd" x="817" y="428">SW Cluster Integration</text>
<g id="sci-r1"><use href="#doc" class="s" transform="translate(681,435) scale(60,17)"/><text class="tw" x="711" y="443">Ref. Process Design</text></g>
<g id="sci-r2"><use href="#doc" class="s" transform="translate(681,458) scale(60,17)"/><text class="tw" x="711" y="466">Ref. Machine Manifest</text></g>
<g id="sci-d1"><use href="#chev" class="s" transform="translate(772,440) scale(64,28)"/><text class="t" x="805" y="450">Define &amp; generate</text><text class="t" x="805" y="455.5">Execution</text><text class="t" x="805" y="461">Manifest</text></g>
<g id="sci-tpl"><rect x="856" y="431" width="106" height="85" fill="#b7cbe6" stroke="#8aa6cf" stroke-width="0.8"/>
<text class="t" transform="translate(957,473) rotate(90)" style="font-weight:normal;font-size:4.4px">SW Cluster (template) (.arxml)</text></g>
<g id="sci-em"><use href="#doc" class="s" transform="translate(858,435) scale(95,43)"/><text class="t" x="905.5" y="443">Execution Manifest (<tspan fill="#fff">.json</tspan>)</text>
<rect class="dk" x="874" y="450" width="62" height="8"/><text class="tm" x="905" y="455.6">Process Config.</text>
<rect class="dk" x="874" y="460" width="62" height="8"/><text class="tm" x="905" y="465.6">Function Group Config.</text></g>
<g id="sci-sim"><use href="#doc" class="s" transform="translate(858,486) scale(95,26)"/><text class="t" x="905.5" y="496">Service Instance Manifest (<tspan fill="#fff">.json</tspan>)</text></g>
<g id="sci-r3"><use href="#doc" class="s" transform="translate(681,482) scale(60,29)"/><text class="tw" x="711" y="494">Ref. to Service Instance</text><text class="tw" x="711" y="499.5">Description</text></g>
<g id="sci-d2"><use href="#chev" class="s" transform="translate(772,486) scale(64,29)"/><text class="t" x="805" y="495.5">Create / Finalize</text><text class="t" x="805" y="501">Service Instance</text><text class="t" x="805" y="506.5">Manifest</text></g>
<g id="sci-r4"><use href="#doc" class="s" transform="translate(681,526) scale(60,28)"/><text class="tw" x="711" y="537">Ref. to adaptive SW</text><text class="tw" x="711" y="542.5">Implementation</text></g>
<g id="sci-d3"><use href="#chev" class="s" transform="translate(772,527) scale(64,28)"/><text class="t" x="805" y="539">Build SW for exec.</text><text class="t" x="805" y="544.5">environment</text></g>
<g id="sci-b1"><rect class="s" x="866" y="529" width="86" height="11"/><text class="t" x="909" y="536">Adaptive Software Binary</text></g>
<g id="sci-b2"><rect class="s" x="866" y="544" width="86" height="11"/><text class="t" x="909" y="551">Diagnostic Manager Binary</text></g>
</g>

<!-- ================= SOFTWARE PACKAGING ================= -->
<g id="pkg">
<rect class="pn" x="659" y="566" width="309" height="123"/>
<text class="hd" x="813" y="577">Software Packaging</text>
<g id="pkg-inst"><path class="s" d="M662,594H690L702,635L690,677H662L674,635Z"/>
<text class="t" transform="translate(686,635) rotate(90)">Install SW for target</text>
<text class="t" transform="translate(680,635) rotate(90)">runtime environment</text></g>
<g id="pkg-bin"><path d="M722,602H762L773,632L762,662H722Z" fill="#fff" stroke="#4a73aa" stroke-width="0.9"/>
<rect class="s" x="726" y="609" width="26" height="22"/><text class="t" x="739" y="617">Adaptive</text><text class="t" x="739" y="622">Software</text><text class="t" x="739" y="627">Binary</text>
<rect class="s" x="726" y="635" width="26" height="24"/><text class="t" x="739" y="643">Diagnostic</text><text class="t" x="739" y="648">Manager</text><text class="t" x="739" y="653">Binary</text>
<text class="t" transform="translate(765,632) rotate(90)" style="font-size:3.4px">installation to</text></g>
<g id="pkg-desc">
<rect class="s" x="779" y="581" width="184" height="104"/>
<text class="t" x="871" y="591" style="font-size:6.3px">Adaptive Software Package (Description)</text>
<rect class="lt" x="782" y="595" width="176" height="15"/>
<text class="tp" x="785" y="601">-Each SW Cluster has a wrapped SW Package; as SW Cluster focuses on the</text>
<text class="tp" x="785" y="606">structure of SW, Package focuses on the installation.</text>
<rect class="lt" x="782" y="614" width="176" height="15"/>
<text class="tp" x="785" y="623">-SW Cluster as while as SW Package has their own Manifest and Signature.</text>
<rect class="lt" x="782" y="632" width="176" height="48"/>
<text class="tp" x="785" y="638">- To set up an initial machine, at least the following tasks shall be performed:</text>
<text class="tp" x="785" y="644">* Install the selected OS on the selected target (machine)</text>
<text class="tp" x="785" y="650">* Install all necessary Platform modules (EM, SM, PHM &amp; UCM) on top of</text>
<text class="tp" x="789" y="656">the installed OS in order to be able to upload and install other SWs by means</text>
<text class="tp" x="789" y="662">of Adaptive SW Package.</text>
<text class="tp" x="785" y="668">- Following inputs are required to execute the tasks above: OS, Machine</text>
<text class="tp" x="789" y="674">Manifest, Execution and Service Instance Manifests, and executable binaries.</text>
</g>
</g>

<!-- ================= LEGEND ================= -->
<g id="legend">
<rect x="367" y="715" width="601" height="30" rx="6" fill="none" stroke="#8a9ab0" stroke-width="0.7" stroke-dasharray="1.2 1"/>
<g id="lg-task"><use href="#chev" class="s" transform="translate(377,720) scale(60,19)"/><text class="t" x="407" y="731">Task / Activity</text></g>
<g id="lg-od"><use href="#chev" class="sl" transform="translate(447,720) scale(65,19)"/><text class="t" x="479.5" y="731">On-demand task</text></g>
<g id="lg-prod"><use href="#doc" class="s" transform="translate(523,720) scale(47,19)"/><text class="t" x="546.5" y="729.5">Product / Artifact</text></g>
<g id="lg-ref"><use href="#doc" class="s" transform="translate(593,720) scale(55,19)"/><text class="tw" x="620.5" y="729.5">Ref. to Artifact</text></g>
<g id="lg-art1"><rect class="s" x="663" y="722" width="79" height="16"/><text class="t" x="702.5" y="727">Artifact XYZ</text><rect class="dk" x="666" y="729" width="73" height="7"/><text class="ts" x="702.5" y="733.8" style="font-size:3.6px">Contributed / included in XYZ</text></g>
<g id="lg-arr"><text class="t" x="795" y="728" style="font-weight:normal">Contributes / Inputs</text></g>
<g id="lg-art2"><rect class="s" x="842" y="722" width="70" height="16"/><text class="t" x="877" y="727">Artifact XYZ</text><rect class="lt" x="845" y="729" width="52" height="7"/><text class="tp" x="847" y="733.8" style="font-size:3.6px">-Description about XYZ</text></g>
</g>

<!-- ================= TITLE ================= -->
<g id="title">
<rect x="983" y="127" width="47" height="505" fill="none" stroke="#666" stroke-width="0.6" stroke-dasharray="1 1"/>
<text transform="translate(1015.5,137) rotate(90)" style="font-family:'Liberation Serif',serif;font-size:12.5px;fill:#222" textLength="488" lengthAdjust="spacingAndGlyphs">Understanding AUTOSAR Adaptive Platform Methodology in details (R24-11)</text>
<text transform="translate(1003.5,137) rotate(90)" style="font-family:'Liberation Serif',serif;font-size:7px;fill:#222" textLength="474" lengthAdjust="spacingAndGlyphs">© Yingtao Wang 2025 – All rights reserved (private work) Yingtao.Wang@stellantis.com R24-11 | v1.0 | Nov.</text>
<text transform="translate(994.5,145) rotate(90)" style="font-family:'Liberation Serif',serif;font-size:7px;fill:#222" textLength="287" lengthAdjust="spacingAndGlyphs">Published by the AUTOSAR Consortium with permission of the author</text>
</g>

<!-- ================= CONNECTORS ================= -->
<g id="connectors">
<path class="a" d="M448,52H462"/>
<path class="a" d="M490,62V76"/>
<path class="a" d="M527,92H556"/>
<path class="ad" d="M443,126H460"/>
<path class="a" d="M523,122L556,110"/>
<path class="a" d="M619,130V215"/>
<path class="a" d="M404,210V225"/>
<path class="a" d="M404,254V269"/>
<path class="a" d="M404,302V316"/>
<path class="a" d="M404,344V362"/>
<path class="a" d="M432,378H459"/>
<path class="a" d="M498,203V214H467V225M498,214H533V225"/>
<path class="a" d="M467,204L433,271"/>
<path d="M432,183L583,263" stroke="#b8c2d0" stroke-width="0.6" fill="none" stroke-dasharray="1.5 1" marker-end="url(#ahg)"/>
<path class="a" d="M592,201V215"/>
<path class="a" d="M467,254V270"/>
<path class="a" d="M533,254V270"/>
<path class="a" d="M604,245V262"/>
<path class="a" d="M501,307V333"/>
<path class="a" d="M600,309V333"/>
<path class="a" d="M432,300L472,330"/>
<path class="a" d="M349,446H376"/>
<path class="a" d="M349,466H376"/>
<path class="a" d="M441,446H521"/>
<path class="a" d="M441,466H521"/>
<path class="a" d="M441,485H521"/>
<path class="a" d="M441,505H521"/>
<path class="a" d="M441,524H521"/>
<path class="a" d="M407,540V533"/>
<path class="a" d="M438,633H447"/>
<path class="a" d="M512,632H530"/>
<path class="a" d="M649,634H664"/>
<path class="a" d="M702,634H720"/>
<path class="a" d="M716,60V76"/>
<path class="a" d="M750,49H775"/>
<path class="a" d="M750,91H775"/>
<path class="a" d="M750,131H775"/>
<path class="a" d="M832,57L868,75"/>
<path class="a" d="M832,91H868"/>
<path class="a" d="M832,127L868,112"/>
<path class="a" d="M747,196H772"/>
<path class="a" d="M838,196H856"/>
<path class="a" d="M742,250H769"/>
<path class="a" d="M838,250H856"/>
<path class="a" d="M743,316H770"/>
<path class="a" d="M838,316H857"/>
<path class="a" d="M905,340V349H759V373"/>
<path class="a" d="M743,375H770"/>
<path class="a" d="M838,375H857"/>
<path class="a" d="M743,453H770"/>
<path class="a" d="M838,453H855"/>
<path class="a" d="M743,498H770"/>
<path class="a" d="M838,500H856"/>
<path class="a" d="M743,542H770"/>
<path class="a" d="M838,542H864"/>
<path class="a" d="M762,735H828"/>
</g>
</svg>
